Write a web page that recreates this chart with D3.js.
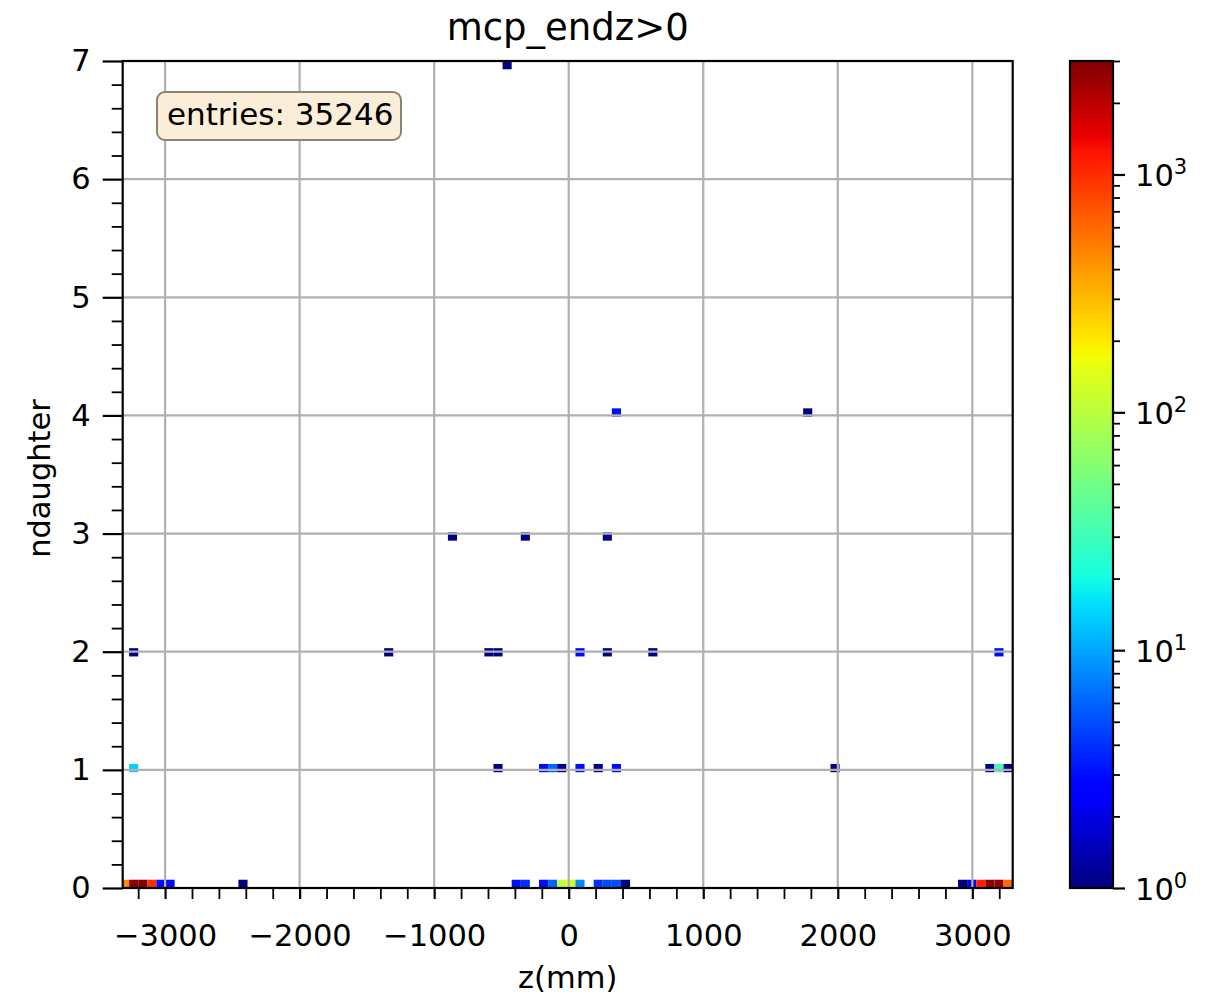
<!DOCTYPE html>
<html><head><meta charset="utf-8">
<script src="https://cdn.jsdelivr.net/npm/d3@7"></script>
<style>body{margin:0;background:#fff;} svg{display:block;font-family:'DejaVu Sans',sans-serif;}</style>
</head><body><svg id="chart" width="1209" height="998"></svg>
<script>
// ---------- data ----------
const titleText = "mcp_endz>0";
const xLabelText = "z(mm)";
const yLabelText = "ndaughter";
const entriesText = "entries: 35246";

const zDomain = [-3315, 3300];
const zBinStart = -3335, zBinWidth = 67.7;
const nDomain = [0, 7];
const nBinWidth = 0.07, nBinCount = 100;

const xTickValues = [-3000, -2000, -1000, 0, 1000, 2000, 3000];
const yTickValues = [0, 1, 2, 3, 4, 5, 6, 7];
const cbarTickValues = [1, 10, 100, 1000];
const cbarTickExponents = ["0", "1", "2", "3"];

// rows of the 2D histogram: bin centre z (mm) and counts, per ndaughter value
const nd0Z = [-3301, -3233, -3166, -3098, -3030, -2963, -2421, -390, -322, -187, -119, -52, 16, 84, 219, 287, 355, 422, 2927, 2995, 3063, 3130, 3198, 3266];
const nd0Count = [450, 2700, 3000, 1000, 3, 3, 1, 3, 4, 3, 6, 110, 130, 8, 4, 5, 5, 1, 1, 2, 1100, 2800, 2600, 600];
const nd1Z = [-3233, -525, -187, -119, -52, 84, 219, 355, 1990, 3130, 3198, 3266];
const nd1Count = [14, 1, 3, 6, 1, 3, 1, 3, 1, 1, 30, 1];
const nd2Z = [-3233, -1338, -593, -525, 84, 287, 625, 3198];
const nd2Count = [1, 1, 1, 1, 3, 1, 1, 3];
const nd3Z = [-864, -322, 287];
const nd3Count = [1, 1, 1];
const nd4Z = [355, 1745];
const nd4Count = [3, 1];
const nd7Z = [-458];
const nd7Count = [1];

const rows = [
  {n: 0, z: nd0Z, c: nd0Count},
  {n: 1, z: nd1Z, c: nd1Count},
  {n: 2, z: nd2Z, c: nd2Count},
  {n: 3, z: nd3Z, c: nd3Count},
  {n: 4, z: nd4Z, c: nd4Count},
  {n: 7, z: nd7Z, c: nd7Count}
];
const cells = [];
rows.forEach(r => r.z.forEach((z, k) => {
  const bi = Math.floor((z - zBinStart) / zBinWidth);
  let bj = Math.floor(r.n / nBinWidth);
  if (bj >= nBinCount) bj = nBinCount - 1;
  cells.push({x0: zBinStart + bi * zBinWidth, x1: zBinStart + (bi + 1) * zBinWidth,
              y0: bj * nBinWidth, y1: (bj + 1) * nBinWidth, count: r.c[k]});
}));

// ---------- jet colormap ----------
const jetR = [[0,0],[0.35,0],[0.66,1],[0.89,1],[1,0.5]];
const jetG = [[0,0],[0.125,0],[0.375,1],[0.64,1],[0.91,0],[1,0]];
const jetB = [[0,0.5],[0.11,1],[0.34,1],[0.65,0],[1,0]];
function seg(s, t) {
  for (let k = 1; k < s.length; k++) {
    if (t <= s[k][0]) { const [a, va] = s[k-1], [b, vb] = s[k]; return va + (vb - va) * (t - a) / (b - a); }
  }
  return s[s.length-1][1];
}
function jet(t) { t = Math.max(0, Math.min(1, t)); return d3.rgb(255*seg(jetR,t), 255*seg(jetG,t), 255*seg(jetB,t)).formatHex(); }

// ---------- layout ----------
const L = 122.7, R = 1012.7, T = 61, B = 888;
const cbL = 1070, cbR = 1113;
const FS = 30.5;
const svg = d3.select("#chart");

const x = d3.scaleLinear().domain(zDomain).range([L, R]);
const y = d3.scaleLinear().domain(nDomain).range([B, T]);
const vmax = d3.max(cells, d => d.count);
const norm = d3.scaleLog().domain([1, vmax]).range([0, 1]).clamp(true);
const cb = d3.scaleLog().domain([1, vmax]).range([B, T]);

svg.append("defs").append("clipPath").attr("id", "clip")
  .append("rect").attr("x", L).attr("y", T).attr("width", R - L).attr("height", B - T);

// cells
svg.append("g").attr("clip-path", "url(#clip)").selectAll("rect").data(cells).join("rect")
  .attr("x", d => x(d.x0)).attr("width", d => x(d.x1) - x(d.x0))
  .attr("y", d => y(d.y1)).attr("height", d => y(d.y0) - y(d.y1))
  .attr("fill", d => jet(norm(d.count)));

// grid
const grid = svg.append("g").attr("stroke", "#b0b0b0").attr("stroke-width", 2.2);
grid.selectAll(".gx").data(xTickValues).join("line")
  .attr("x1", d => x(d)).attr("x2", d => x(d)).attr("y1", T).attr("y2", B);
grid.selectAll(".gy").data(yTickValues).join("line")
  .attr("y1", d => y(d)).attr("y2", d => y(d)).attr("x1", L).attr("x2", R);

// minor ticks
const xMinor = d3.range(-3200, 3201, 200).filter(v => v % 1000 !== 0 && v >= zDomain[0] && v <= zDomain[1]);
const yMinor = d3.range(1, 35).map(k => k * 0.2).filter(v => Math.abs(v - Math.round(v)) > 1e-6);

function styleAxis(g, fs) {
  g.attr("font-family", "'DejaVu Sans',sans-serif").attr("font-size", fs);
  g.select(".domain").remove();
  g.selectAll(".tick line").attr("stroke", "#000");
  g.selectAll(".tick text").attr("fill", "#000");
}

const xAxisMinor = svg.append("g").attr("transform", `translate(0,${B})`)
  .call(d3.axisBottom(x).tickValues(xMinor).tickSize(11).tickFormat(""));
styleAxis(xAxisMinor, FS); xAxisMinor.selectAll(".tick line").attr("stroke-width", 1.8);

const xAxis = svg.append("g").attr("transform", `translate(0,${B})`)
  .call(d3.axisBottom(x).tickValues(xTickValues).tickSize(11).tickPadding(25).tickFormat(d3.format("")));
styleAxis(xAxis, FS); xAxis.selectAll(".tick line").attr("stroke-width", 2.2);

const yAxisMinor = svg.append("g").attr("transform", `translate(${L},0)`)
  .call(d3.axisLeft(y).tickValues(yMinor).tickSize(11).tickFormat(""));
styleAxis(yAxisMinor, FS); yAxisMinor.selectAll(".tick line").attr("stroke-width", 1.8);

const yAxis = svg.append("g").attr("transform", `translate(${L},0)`)
  .call(d3.axisLeft(y).tickValues(yTickValues).tickSize(20).tickPadding(12).tickFormat(d3.format("d")));
styleAxis(yAxis, FS); yAxis.selectAll(".tick line").attr("stroke-width", 2.2);

// spines
svg.append("rect").attr("x", L).attr("y", T).attr("width", R - L).attr("height", B - T)
  .attr("fill", "none").attr("stroke", "#000").attr("stroke-width", 2.2);

// title and labels
svg.append("text").attr("x", (L + R) / 2).attr("y", 40).attr("text-anchor", "middle")
  .attr("font-size", 37).attr("fill", "#000").text(titleText);
svg.append("text").attr("x", (L + R) / 2).attr("y", 988).attr("text-anchor", "middle")
  .attr("font-size", FS).attr("fill", "#000").text(xLabelText);
svg.append("text").attr("transform", `translate(50,${(T + B) / 2 + 4}) rotate(-90)`).attr("text-anchor", "middle")
  .attr("font-size", FS).attr("fill", "#000").text(yLabelText);

// entries box
svg.append("rect").attr("x", 157).attr("y", 92).attr("width", 244).attr("height", 48).attr("rx", 8)
  .attr("fill", "#faeed9").attr("stroke", "#8a8376").attr("stroke-width", 2);
svg.append("text").attr("x", 167).attr("y", 125).attr("font-size", 31).attr("fill", "#000").text(entriesText);

// colorbar
const grad = svg.select("defs").append("linearGradient").attr("id", "jetgrad")
  .attr("x1", 0).attr("y1", 1).attr("x2", 0).attr("y2", 0);
d3.range(0, 1.0001, 0.01).forEach(f => grad.append("stop").attr("offset", f).attr("stop-color", jet(f)));
svg.append("rect").attr("x", cbL).attr("y", T).attr("width", cbR - cbL).attr("height", B - T).attr("fill", "url(#jetgrad)");

const cbMinor = [];
[1, 10, 100, 1000].forEach(d => d3.range(2, 10).forEach(m => { if (m * d <= vmax) cbMinor.push(m * d); }));
const cbAxisMinor = svg.append("g").attr("transform", `translate(${cbR},0)`)
  .call(d3.axisRight(cb).tickValues(cbMinor).tickSize(7).tickFormat(""));
styleAxis(cbAxisMinor, FS); cbAxisMinor.selectAll(".tick line").attr("stroke-width", 1.8);
const cbAxis = svg.append("g").attr("transform", `translate(${cbR},0)`)
  .call(d3.axisRight(cb).tickValues(cbarTickValues).tickSize(12).tickFormat(""));
styleAxis(cbAxis, FS); cbAxis.selectAll(".tick line").attr("stroke-width", 2.2);
cbAxis.selectAll(".tick").each(function(d, i) {
  const t = d3.select(this).append("text").attr("x", 22).attr("y", 11).attr("fill", "#000").attr("font-size", FS);
  t.append("tspan").text("10");
  t.append("tspan").attr("dy", -12).attr("font-size", 21).text(cbarTickExponents[i]);
});
svg.append("rect").attr("x", cbL).attr("y", T).attr("width", cbR - cbL).attr("height", B - T)
  .attr("fill", "none").attr("stroke", "#000").attr("stroke-width", 2.2);
</script></body></html>
